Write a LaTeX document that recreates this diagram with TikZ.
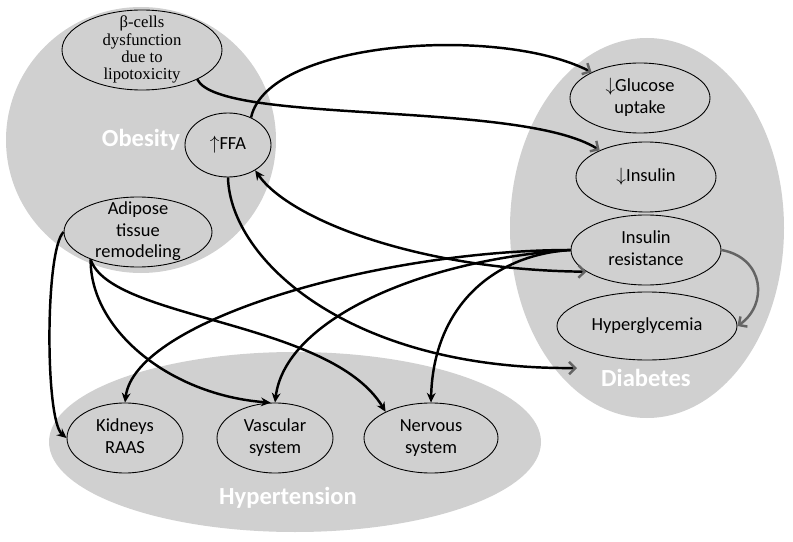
\documentclass[tikz,border=0pt]{standalone}
\usepackage{fontspec}
\setmainfont{Carlito}
\newfontfamily\bookfont{Liberation Serif}
\usepackage{tikz}
\usetikzlibrary{shapes.geometric}
\usetikzlibrary{arrows.meta}
\usepackage{xcolor}
\definecolor{blobgray}{RGB}{208,208,208}
\definecolor{tipgray}{RGB}{100,100,100}
\newcommand{\boxtext}[1]{\raisebox{-0.25em}[0pt][0pt]{\begin{tabular}{@{}c@{}}#1\end{tabular}}}

\begin{document}
\begin{tikzpicture}[x=0.2mm, y=-0.2mm,
  blob/.style={fill=blobgray, draw=none},
  box/.style={ellipse, draw=black, line width=0.5pt, fill=blobgray, inner sep=0pt, font=\fontsize{10.5}{12.4}\selectfont},
  tag/.style={text=white, font=\bfseries\fontsize{14}{16}\selectfont},
  link/.style={line width=1.4pt, -{Stealth[length=5.5pt, width=5pt]}},
  graylink/.style={line width=1.4pt, -{Straight Barb[length=3.5pt, width=7pt, color=tipgray]}},
  bothlink/.style={line width=1.4pt, {Stealth[length=5.5pt, width=5pt]}-{Straight Barb[length=3.5pt, width=7pt, color=tipgray]}}]

\useasboundingbox (0,0) rectangle (793,542);

% the three regions
\fill[blob] (141,140) ellipse [x radius=135, y radius=133];
\fill[blob] (647,228) ellipse [x radius=137, y radius=190];
\fill[blob] (295,442) ellipse [x radius=246, y radius=90];

\node[tag] (obesity) at (141,140) {Obesity};
\node[tag] (diabetes) at (646,378) {Diabetes};
\node[tag] (hypertension) at (288,498) {Hypertension};

% obesity
\node[box, minimum width=32mm, minimum height=16mm, font=\bookfont\fontsize{9.5}{9.8}\selectfont] (beta) at (142,50) {\boxtext{β-cells\\ dysfunction\\ due to\\ lipotoxicity}};
\node[box, minimum width=17.2mm, minimum height=12.8mm] (ffa) at (228,145) {\boxtext{$\uparrow$FFA}};
\node[box, minimum width=29.6mm, minimum height=14mm] (adip) at (138,232) {\boxtext{Adipose\\ tissue\\ remodeling}};

% diabetes
\node[box, minimum width=28mm, minimum height=14mm] (glu) at (640,98) {\boxtext{$\downarrow$Glucose\\ uptake}};
\node[box, minimum width=28mm, minimum height=14mm] (ins) at (646,177) {\boxtext{$\downarrow$Insulin}};
\node[box, minimum width=30mm, minimum height=14mm] (ir) at (646,250) {\boxtext{Insulin\\ resistance}};
\node[box, minimum width=36mm, minimum height=13.6mm] (hyp) at (647,326) {\boxtext{Hyperglycemia}};
\coordinate (dtip) at (577,368);

% hypertension
\node[box, minimum width=23.2mm, minimum height=14mm] (kid) at (125,438) {\boxtext{Kidneys\\ RAAS}};
\node[box, minimum width=23.2mm, minimum height=14mm] (vas) at (275,438) {\boxtext{Vascular\\ system}};
\node[box, minimum width=26.8mm, minimum height=14mm] (ner) at (431,438) {\boxtext{Nervous\\ system}};

% arrows
\draw[graylink] (ffa.50) .. controls (268,40) and (500,25) .. (glu.152);
\draw[graylink] (beta.-28) .. controls (220,125) and (520,100) .. (ins.150);
\draw[graylink] (ffa.south) .. controls (230,260) and (350,370) .. (dtip);
\draw[bothlink] (ffa.-43) .. controls (290,220) and (420,270) .. (ir.200);
\draw[graylink, draw=tipgray] (ir.east) .. controls (765,258) and (768,305) .. (hyp.east);

\draw[link] (ir.west) .. controls (380,250) and (135,320) .. (kid.north);
\draw[link] (ir.west) .. controls (420,260) and (285,320) .. (vas.north);
\draw[link] (ir.west) .. controls (490,255) and (433,310) .. (ner.north);

\draw[link] (adip.west) .. controls (45,250) and (45,420) .. (kid.west);
\draw[link] (adip.-150) .. controls (90,330) and (170,395) .. (vas.97);
\draw[link] (adip.-150) .. controls (110,320) and (330,320) .. (ner.150);

\end{tikzpicture}
\end{document}
